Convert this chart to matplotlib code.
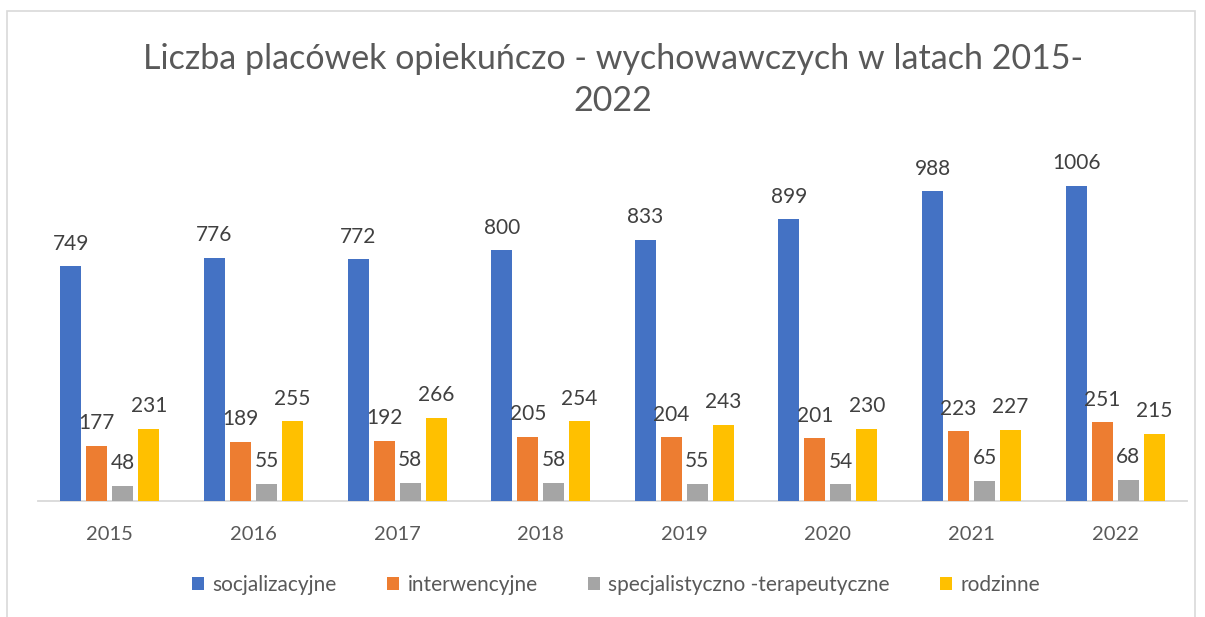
import matplotlib
matplotlib.use("Agg")
import matplotlib.pyplot as plt
from matplotlib.patches import Rectangle
import numpy as np

plt.rcParams["font.family"] = ["Lato", "DejaVu Sans"]

years = ["2015", "2016", "2017", "2018", "2019", "2020", "2021", "2022"]
socjalizacyjne = [749, 776, 772, 800, 833, 899, 988, 1006]
interwencyjne = [177, 189, 192, 205, 204, 201, 223, 251]
specjalistyczne = [48, 55, 58, 58, 55, 54, 65, 68]
rodzinne = [231, 255, 266, 254, 243, 230, 227, 215]

series = [
    ("socjalizacyjne", socjalizacyjne, "#4472C4"),
    ("interwencyjne", interwencyjne, "#ED7D31"),
    ("specjalistyczno -terapeutyczne", specjalistyczne, "#A5A5A5"),
    ("rodzinne", rodzinne, "#FFC000"),
]

C_TXT = "#595959"
W, H = 1205, 617

fig = plt.figure(figsize=(W / 100, H / 100), dpi=100)
# ramka obszaru wykresu (dolna krawędź poza obrazem)
fig.patches.append(Rectangle((7 / W, -0.1), (1195 - 7) / W, 1.1 - 11 / H, transform=fig.transFigure,
                             facecolor="none", edgecolor="#d9d9d9", lw=1.2))

ax = fig.add_axes([38 / W, 1 - 501 / H, (1187 - 38) / W, (501 - 125) / H])
xs = np.arange(len(years))
bw = 0.146
pitch = 0.181
for i, (name, vals, col) in enumerate(series):
    off = (i - 1.5) * pitch
    bars = ax.bar(xs + off, vals, width=bw, color=col, label=name, zorder=3)
    for b, v in zip(bars, vals):
        ax.annotate(str(v), (b.get_x() + b.get_width() / 2, v), xytext=(0, 9),
                    textcoords="offset points", ha="center", va="bottom",
                    fontsize=15, color="#404040")

ax.set_xlim(-0.5, len(years) - 0.5)
ax.set_ylim(0, 1200)
ax.set_yticks([])
ax.set_xticks(xs)
ax.set_xticklabels(years, fontsize=14.5, color=C_TXT)
ax.tick_params(axis="x", length=0, pad=18)
for s in ["top", "right", "left"]:
    ax.spines[s].set_visible(False)
ax.spines["bottom"].set_color("#d9d9d9")
ax.spines["bottom"].set_linewidth(1.3)

fig.text(613 / W, 1 - 80 / H, "Liczba placówek opiekuńczo - wychowawczych w latach 2015-\n2022",
         ha="center", va="center", fontsize=24.5, color=C_TXT, linespacing=1.38)

fig.legend(loc="center", bbox_to_anchor=(616 / W, 1 - 585 / H), ncol=4, frameon=False,
           fontsize=15, handlelength=0.6, handleheight=0.6, handletextpad=0.4,
           columnspacing=2.4, labelcolor=C_TXT)

fig.savefig("out.png", dpi=100, facecolor="white")
